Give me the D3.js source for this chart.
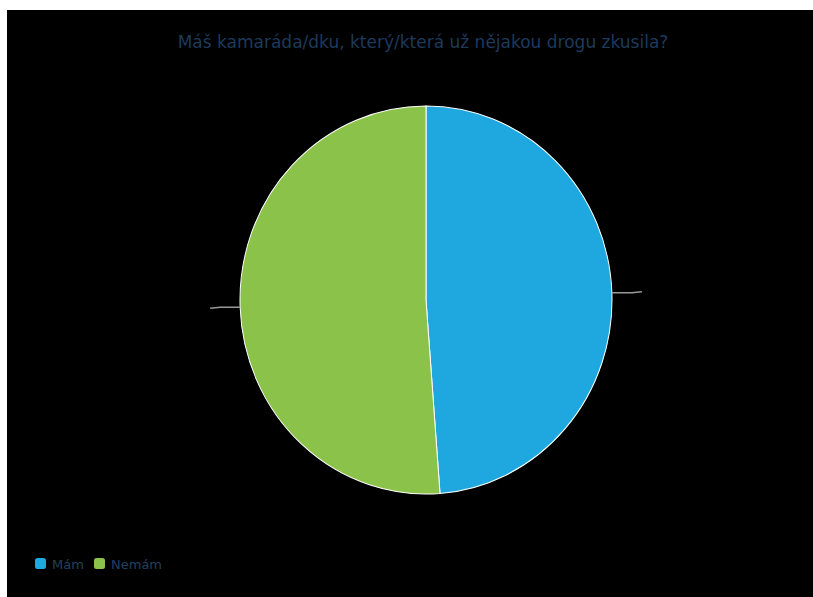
<!DOCTYPE html>
<html>
<head>
<meta charset="utf-8">
<script src="https://cdn.jsdelivr.net/npm/d3@7"></script>
<style>
  body { margin: 0; background: #fff; }
  svg { display: block; font-family: "DejaVu Sans", sans-serif; }
</style>
</head>
<body>
<svg width="813" height="597"></svg>
<script>
// Chart data.
var categories = ["Mám", "Nemám"];
var values = [48.8, 51.2];
var colors = ["#1fa8e0", "#8bc34a"];
var title = "Máš kamaráda/dku, který/která už nějakou drogu zkusila?";

var svg = d3.select("svg");

// Black chart background.
svg.append("rect")
	.attr("x", 7).attr("y", 10)
	.attr("width", 806).attr("height", 587)
	.attr("fill", "#000");

svg.append("text")
	.attr("x", 423).attr("y", 48)
	.attr("text-anchor", "middle")
	.attr("font-size", 17)
	.attr("fill", "#1d3a5c")
	.text(title);

var cx = 426, cy = 300, rx = 186, ry = 194;

var pie = d3.pie().sort(null).value(function(d) { return d; });
var arcs = pie(values);
var arc = d3.arc().innerRadius(0).outerRadius(rx);

// Pie is slightly taller than wide in the reference, so scale vertically.
var g = svg.append("g")
	.attr("transform", "translate(" + cx + "," + cy + ")");

g.selectAll("path")
	.data(arcs)
	.enter()
	.append("path")
	.attr("d", arc)
	.attr("transform", "scale(1," + (ry / rx) + ")")
	.attr("fill", function(d, i) { return colors[i]; })
	.attr("stroke", "#fff")
	.attr("stroke-width", 1);

// Leader lines for the (invisible) labels.
g.selectAll("polyline")
	.data(arcs)
	.enter()
	.append("polyline")
	.attr("points", function(d) {
		var a = (d.startAngle + d.endAngle) / 2;
		var x0 = Math.sin(a) * rx, y0 = -Math.cos(a) * ry;
		var side = x0 > 0 ? 1 : -1;
		var x1 = x0 + side * 20, x2 = x1 + side * 10;
		return [[x0, y0], [x1, y0], [x2, y0 - side * 1]].join(" ");
	})
	.attr("fill", "none")
	.attr("stroke", "#999")
	.attr("stroke-width", 1.5);

// Legend.
var legend = svg.append("g").attr("transform", "translate(35,558)");
var xs = [0, 59];
categories.forEach(function(c, i) {
	var item = legend.append("g").attr("transform", "translate(" + xs[i] + ",0)");
	item.append("rect")
		.attr("width", 11).attr("height", 11)
		.attr("rx", 2.5)
		.attr("fill", colors[i]);
	item.append("text")
		.attr("x", 17).attr("y", 10.5)
		.attr("font-size", 13)
		.attr("fill", "#23415f")
		.text(c);
});
</script>
</body>
</html>
